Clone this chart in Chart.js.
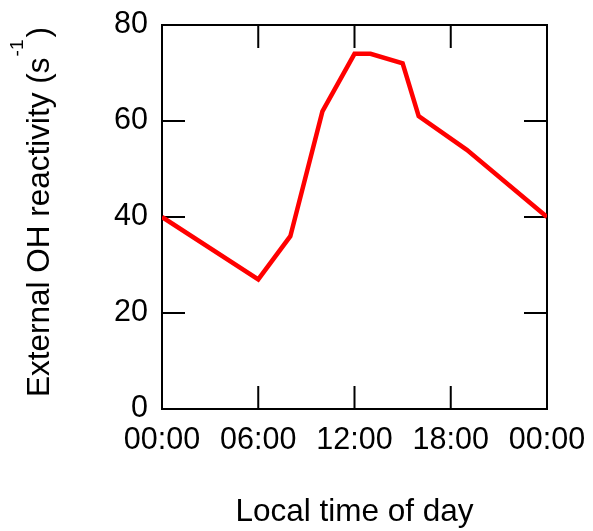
<!DOCTYPE html>
<html>
<head>
<meta charset="utf-8">
<script src="https://cdn.jsdelivr.net/npm/chart.js@4"></script>
<style>
  html, body { margin: 0; padding: 0; background: #fff; }
  #wrap { width: 593px; height: 531px; }
</style>
</head>
<body>
<div id="wrap"><canvas id="chart" width="593" height="531"></canvas></div>
<script>
const hours = [0, 6, 8, 10, 12, 13, 15, 16, 19, 24];
const reactivity = [40, 27, 36, 62, 74, 74, 72, 61, 54, 40];
const xTickLabels = ['00:00', '06:00', '12:00', '18:00', '00:00'];
const xTitle = 'Local time of day';
const yTitleMain = 'External OH reactivity (s';
const yTitleSup = '-1';
const yTitleEnd = ')';

const FONT = '"Liberation Sans", Arial, sans-serif';

// frame plus inward tick marks on all four sides
const frameTicks = {
    id: 'frameTicks',
    beforeDatasetsDraw(chart) {
        const { ctx, chartArea: a, scales: { x, y } } = chart;
        const len = 23;
        ctx.save();
        ctx.strokeStyle = '#000';
        ctx.lineWidth = 2;
        ctx.strokeRect(a.left, a.top, a.right - a.left, a.bottom - a.top);
        ctx.beginPath();
        x.ticks.forEach(t => {
            if (t.value <= x.min || t.value >= x.max) return;
            const px = x.getPixelForValue(t.value);
            ctx.moveTo(px, a.bottom); ctx.lineTo(px, a.bottom - len);
            ctx.moveTo(px, a.top); ctx.lineTo(px, a.top + len);
        });
        y.ticks.forEach(t => {
            if (t.value <= y.min || t.value >= y.max) return;
            const py = y.getPixelForValue(t.value);
            ctx.moveTo(a.left, py); ctx.lineTo(a.left + len, py);
            ctx.moveTo(a.right, py); ctx.lineTo(a.right - len, py);
        });
        ctx.stroke();
        ctx.restore();
    }
};

// rotated y title with superscript
const yTitle = {
    id: 'yTitle',
    afterDraw(chart) {
        const ctx = chart.ctx;
        ctx.save();
        ctx.translate(49, 397);
        ctx.rotate(-Math.PI / 2);
        ctx.fillStyle = '#000';
        ctx.textBaseline = 'alphabetic';
        ctx.textAlign = 'left';
        ctx.font = '31.5px ' + FONT;
        ctx.fillText(yTitleMain, 0, 0);
        let pos = ctx.measureText(yTitleMain).width + 1;
        ctx.font = '19px ' + FONT;
        ctx.fillText(yTitleSup, pos, -26);
        pos += ctx.measureText(yTitleSup).width + 2;
        ctx.font = '31.5px ' + FONT;
        ctx.fillText(yTitleEnd, pos, 0);
        ctx.restore();
    }
};

new Chart(document.getElementById('chart'), {
    type: 'line',
    data: {
        datasets: [{
            data: hours.map((h, i) => ({ x: h, y: reactivity[i] })),
            borderColor: '#ff0000',
            borderWidth: 4.5,
            pointRadius: 0,
            tension: 0,
            fill: false
        }]
    },
    options: {
        responsive: false,
        animation: false,
        layout: { padding: { top: 25, right: 46, left: 0, bottom: 0 } },
        plugins: { legend: { display: false }, tooltip: { enabled: false } },
        scales: {
            x: {
                type: 'linear',
                min: 0, max: 24,
                afterFit: s => { s.height = 122; s.paddingLeft = 0; s.paddingRight = 0; },
                grid: { display: false, drawTicks: false },
                border: { display: false },
                ticks: {
                    stepSize: 6,
                    padding: 13,
                    color: '#000',
                    font: { family: FONT, size: 30.5 },
                    maxRotation: 0,
                    autoSkip: false,
                    callback: (v, i) => xTickLabels[i]
                },
                title: {
                    display: true,
                    text: xTitle,
                    color: '#000',
                    padding: 0,
                    font: { family: FONT, size: 31.5 }
                }
            },
            y: {
                min: 0, max: 80,
                afterFit: s => { s.width = 162; s.paddingTop = 0; s.paddingBottom = 0; },
                grid: { display: false, drawTicks: false },
                border: { display: false },
                ticks: {
                    stepSize: 20,
                    padding: 14,
                    color: '#000',
                    font: { family: FONT, size: 30.5 }
                }
            }
        }
    },
    plugins: [frameTicks, yTitle]
});
</script>
</body>
</html>
